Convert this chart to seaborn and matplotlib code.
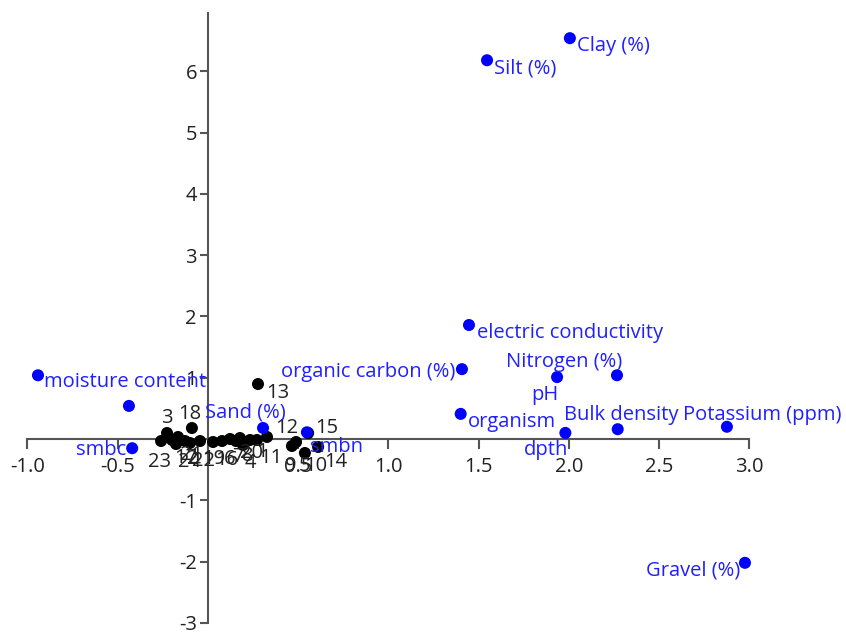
import matplotlib
matplotlib.use('Agg')
import matplotlib.pyplot as plt
import seaborn as sns
import pandas as pd

# variables (blue)
var_names = ['Clay (%)', 'Silt (%)', 'electric conductivity', 'organic carbon (%)',
             'Nitrogen (%)', 'pH', 'organism', 'Bulk density', 'Potassium (ppm)',
             'dpth', 'Gravel (%)', 'moisture content', '', 'smbc', 'Sand (%)', 'smbn']
var_x = [2.005, 1.546, 1.446, 1.407, 2.266, 1.934, 1.40, 2.27, 2.875,
         1.98, 2.975, -0.942, -0.438, -0.42, 0.305, 0.548]
var_y = [6.54, 6.18, 1.86, 1.14, 1.04, 1.01, 0.41, 0.16, 0.20,
         0.10, -2.02, 1.04, 0.54, -0.15, 0.18, 0.11]

# observations (black)
obs_names = [str(i) for i in range(1, 25)]
obs_x = [0.233, -0.127, -0.227, 0.194, 0.537, 0.078, 0.122, 0.177, 0.465, 0.488,
         0.271, 0.327, 0.277, 0.610, 0.555, 0.028, -0.199, -0.089, -0.044, 0.155,
         -0.166, -0.100, -0.260, -0.177]
obs_y = [-0.016, -0.033, 0.098, -0.098, -0.228, -0.033, 0.0, 0.016, -0.114, -0.049,
         -0.016, 0.033, 0.897, -0.130, 0.097, -0.049, -0.016, 0.179, -0.033, -0.033,
         0.033, -0.065, -0.033, -0.082]

df_var = pd.DataFrame({'x': var_x, 'y': var_y, 'name': var_names})
df_obs = pd.DataFrame({'x': obs_x, 'y': obs_y, 'name': obs_names})

# label placement in pixels: (dx, dy down, ha)
var_off = {
    'Clay (%)': (7, 8, 'left'), 'Silt (%)': (7, 8, 'left'),
    'electric conductivity': (8, 8, 'left'), 'organic carbon (%)': (-7, 3, 'right'),
    'Nitrogen (%)': (5, -13, 'right'), 'pH': (1, 18, 'right'),
    'organism': (7, 8, 'left'), 'Bulk density': (4, -14, 'center'),
    'Potassium (ppm)': (-44, -12, 'left'), 'dpth': (3, 17, 'right'),
    'Gravel (%)': (-5, 8, 'right'), 'moisture content': (6, 7, 'left'),
    'smbc': (-6, 2, 'right'), 'Sand (%)': (-58, -15, 'left'), 'smbn': (3, 15, 'left'),
}
obs_off = {
    '13': (8, 9, 'left'), '18': (-2, -14, 'center'), '3': (0, -15, 'center'),
    '12': (8, -9, 'left'), '15': (7, -5, 'left'), '14': (6, 15, 'left'),
    '9': (-1, 20, 'center'), '5': (0, 13, 'center'), '10': (8, 24, 'left'),
    '23': (-2, 21, 'center'), '1': (6, 12, 'left'), '20': (4, 12, 'left'),
}

sns.set_style('white')
plt.rcParams['font.family'] = ['Open Sans', 'DejaVu Sans']
fs = 14.5

fig = plt.figure(figsize=(8.46, 6.36), dpi=100)
ax = fig.add_axes([0.01117, 0.011, 0.9814, 0.9733])

sns.scatterplot(data=df_obs, x='x', y='y', color='black', s=75, edgecolor='none', ax=ax, zorder=3)
sns.scatterplot(data=df_var, x='x', y='y', color='#0000ff', s=75, edgecolor='none', ax=ax, zorder=4)

px = 0.72  # points per pixel
for _, r in df_obs.iterrows():
    dx, dy, ha = obs_off.get(r['name'], (2, 18, 'left'))
    ax.annotate(r['name'], (r['x'], r['y']), xytext=(dx * px, -dy * px), textcoords='offset points',
                ha=ha, va='center', fontsize=fs, color='#222222', zorder=5)
for _, r in df_var.iterrows():
    if not r['name']:
        continue
    dx, dy, ha = var_off[r['name']]
    ax.annotate(r['name'], (r['x'], r['y']), xytext=(dx * px, -dy * px), textcoords='offset points',
                ha=ha, va='center', fontsize=fs, color='#2020ff', zorder=6)

ax.set_xlim(-1.1, 3.5)
ax.set_ylim(-3.1, 7.0)
ax.spines['left'].set_position(('data', 0))
ax.spines['bottom'].set_position(('data', 0))
ax.spines['top'].set_visible(False)
ax.spines['right'].set_visible(False)
ax.spines['left'].set_bounds(-3, 6.95)
ax.spines['bottom'].set_bounds(-1, 3)
for s in ['left', 'bottom']:
    ax.spines[s].set_color('#555555')
    ax.spines[s].set_linewidth(1.5)

ax.set_xticks([-1.0, -0.5, 0.0, 0.5, 1.0, 1.5, 2.0, 2.5, 3.0])
ax.set_xticklabels(['-1.0', '-0.5', '', '0.5', '1.0', '1.5', '2.0', '2.5', '3.0'])
ax.set_yticks([-3, -2, -1, 0, 1, 2, 3, 4, 5, 6])
ax.set_yticklabels(['-3', '-2', '-1', '', '1', '2', '3', '4', '5', '6'])
ax.tick_params(axis='x', direction='out', length=7, width=1.5, color='#555555', pad=6,
               labelsize=fs, labelcolor='#222222', bottom=True)
ax.tick_params(axis='y', direction='out', length=6, width=1.5, color='#555555', pad=2,
               labelsize=fs, labelcolor='#222222', left=True)
ax.set_xlabel('')
ax.set_ylabel('')
ax.patch.set_alpha(0)

fig.savefig('out.png', dpi=100)
